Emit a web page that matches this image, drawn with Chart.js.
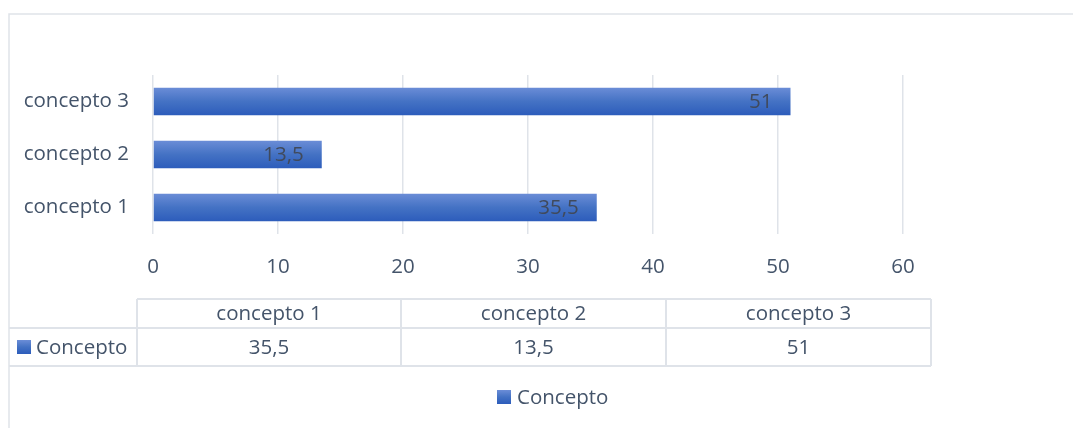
<!DOCTYPE html>
<html lang="es">
<head>
<meta charset="UTF-8">
<title>Concepto</title>
<script src="https://cdn.jsdelivr.net/npm/chart.js"></script>
<style>
  body { margin: 0; background: #fff; }
  canvas { display: block; }
</style>
</head>
<body>
<canvas id="grafico" width="1073" height="428"></canvas>
<script>
  const categorias = ['concepto 1', 'concepto 2', 'concepto 3'];
  const valores = [35.5, 13.5, 51];
  const serie = 'Concepto';
  const ticksX = [0, 10, 20, 30, 40, 50, 60];

  const fuente = "'Open Sans', sans-serif";
  const tam = 20.5;
  const colorTexto = '#44546a';
  const colorLinea = '#dfe3e9';

  const coma = v => String(v).replace('.', ',');

  function degradado(c, y0, y1) {
    const g = c.createLinearGradient(0, y0, 0, y1);
    g.addColorStop(0, '#6b8dd7');
    g.addColorStop(0.5, '#4472c4');
    g.addColorStop(1, '#2c5cbb');
    return g;
  }

  // marco, etiquetas de datos, tabla de datos y leyenda
  const extras = {
    id: 'extras',
    afterDraw(chart) {
      const c = chart.ctx;
      c.save();
      c.strokeStyle = colorLinea;
      c.lineWidth = 1.5;
      c.beginPath();
      c.moveTo(9, 428); c.lineTo(9, 14); c.lineTo(1073, 14);
      c.stroke();

      // etiquetas dentro de las barras
      c.font = tam + 'px ' + fuente;
      c.fillStyle = '#404a5c';
      c.textAlign = 'right';
      c.textBaseline = 'middle';
      chart.getDatasetMeta(0).data.forEach((bar, i) => {
        c.fillText(coma(valores[i]), bar.x - 18, bar.y + 1);
      });

      // tabla de datos
      const cols = [137, 401, 666, 931];
      const filas = [299, 328, 366];
      c.strokeStyle = colorLinea;
      c.lineWidth = 2;
      c.beginPath();
      c.moveTo(cols[0], filas[0]); c.lineTo(cols[3], filas[0]);
      c.moveTo(9, filas[1]); c.lineTo(cols[3], filas[1]);
      c.moveTo(9, filas[2]); c.lineTo(cols[3], filas[2]);
      cols.forEach(x => { c.moveTo(x, filas[0]); c.lineTo(x, filas[2]); });
      c.stroke();

      c.fillStyle = colorTexto;
      c.textAlign = 'center';
      categorias.forEach((cat, i) => {
        const xm = (cols[i] + cols[i + 1]) / 2;
        c.fillText(cat, xm, (filas[0] + filas[1]) / 2 + 1);
        c.fillText(coma(valores[i]), xm, (filas[1] + filas[2]) / 2 + 1);
      });

      c.textAlign = 'left';
      c.fillStyle = degradado(c, 340, 354);
      c.fillRect(17, 340, 14, 14);
      c.fillStyle = colorTexto;
      c.fillText(serie, 36, 348);

      // leyenda
      c.fillStyle = degradado(c, 390, 404);
      c.fillRect(497, 390, 14, 14);
      c.fillStyle = colorTexto;
      c.fillText(serie, 517, 398);
      c.restore();
    }
  };

  new Chart(document.getElementById('grafico'), {
    type: 'bar',
    data: {
      labels: categorias,
      datasets: [{
        label: serie,
        data: valores,
        barPercentage: 0.52,
        categoryPercentage: 1,
        backgroundColor: ctx => {
          const ch = ctx.chart;
          if (!ch.chartArea || ctx.dataIndex === undefined) return '#4472c4';
          const yc = ch.scales.y.getPixelForValue(ctx.dataIndex);
          return degradado(ch.ctx, yc - 14, yc + 14);
        }
      }]
    },
    options: {
      indexAxis: 'y',
      responsive: false,
      animation: false,
      layout: { padding: { left: 0, top: 75, right: 170, bottom: 0 } },
      plugins: { legend: { display: false }, tooltip: { enabled: false } },
      scales: {
        y: {
          reverse: true,
          grid: { display: false, drawTicks: false },
          border: { display: false },
          ticks: { color: colorTexto, font: { family: fuente, size: tam }, padding: 24 },
          afterFit: s => { s.width = 153; }
        },
        x: {
          min: ticksX[0],
          max: ticksX[ticksX.length - 1],
          grid: { color: colorLinea, lineWidth: 1.5, drawTicks: false },
          border: { display: false },
          afterBuildTicks: s => { s.ticks = ticksX.map(v => ({ value: v })); },
          ticks: { color: colorTexto, font: { family: fuente, size: tam }, padding: 21 },
          afterFit: s => { s.height = 194; }
        }
      }
    },
    plugins: [extras]
  });
</script>
</body>
</html>
